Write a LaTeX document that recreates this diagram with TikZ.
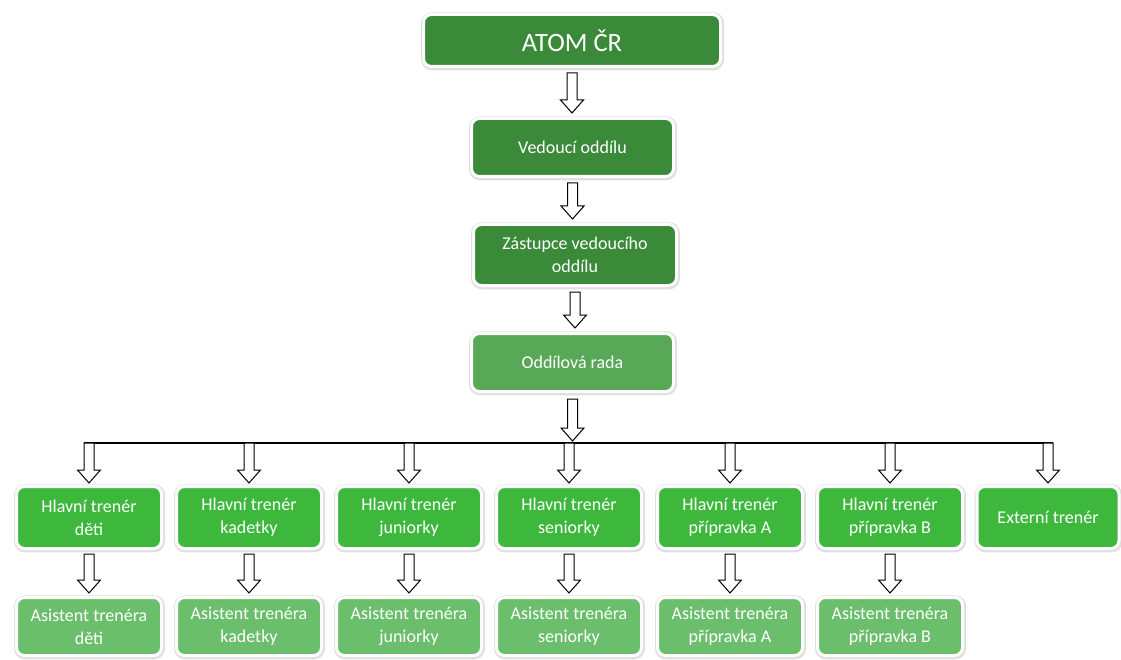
\documentclass[tikz,border=0pt]{standalone}
\usepackage{fontspec}
\setmainfont{Carlito}
\usepackage{tikz}
\usetikzlibrary{calc,shadows}

\definecolor{tmavazelena}{HTML}{3A8A3A}
\definecolor{radazelena}{HTML}{58A858}
\definecolor{trenerzelena}{HTML}{3DB83D}
\definecolor{asistzelena}{HTML}{6BBE6B}

\tikzset{
  box/.style={rectangle, rounded corners=8pt, draw=white, line width=3pt,
    text=white, align=center, font=\fontsize{18}{23}\selectfont,
    drop shadow={shadow xshift=0.5pt, shadow yshift=-0.8pt, opacity=0.5,
      fill=black!25, draw=black!25, line width=6pt}},
  blockarrow/.style={draw=black, fill=white, line width=1pt, line join=miter,
    to path={let \p1=(\tikztostart), \p2=(\tikztotarget) in
      (\x1-5pt,\y1) -- (\x1-5pt,\y2+13pt) -- (\x1-11.5pt,\y2+13pt) -- (\x1,\y2)
      -- (\x1+11.5pt,\y2+13pt) -- (\x1+5pt,\y2+13pt) -- (\x1+5pt,\y1) -- cycle}}
}

\begin{document}
\begin{tikzpicture}[x=1pt,y=1pt]
  \useasboundingbox (0,0) rectangle (1121,-660);

  % Parameters
  \def\rowA{-517.5}
  \def\rowB{-626.5}

  % Top of the chart
  \node[box, fill=tmavazelena, minimum width=297, minimum height=52,
    font=\fontsize{26.5}{30}\selectfont] (atom) at (572,-40.5) {ATOM ČR};
  \node[box, fill=tmavazelena, minimum width=202, minimum height=58] (vedouci) at (572.5,-147.5) {Vedoucí oddílu};
  \node[box, fill=tmavazelena, minimum width=203, minimum height=61] (zastupce) at (575,-255) {Zástupce vedoucího\\oddílu};
  \node[box, fill=radazelena, minimum width=202, minimum height=58] (rada) at (572.5,-362.5) {Oddílová rada};

  % Head coaches
  \node[box, fill=trenerzelena, minimum width=145, minimum height=62] (hdeti) at (89,\rowA) {Hlavní trenér\\děti};
  \node[box, fill=trenerzelena, minimum width=145, minimum height=62] (hkadetky) at (249,\rowA) {Hlavní trenér\\kadetky};
  \node[box, fill=trenerzelena, minimum width=145, minimum height=62] (hjuniorky) at (409,\rowA) {Hlavní trenér\\juniorky};
  \node[box, fill=trenerzelena, minimum width=145, minimum height=62] (hseniorky) at (569,\rowA) {Hlavní trenér\\seniorky};
  \node[box, fill=trenerzelena, minimum width=145, minimum height=62] (hpripravkaA) at (730,\rowA) {Hlavní trenér\\přípravka A};
  \node[box, fill=trenerzelena, minimum width=145, minimum height=62] (hpripravkaB) at (890,\rowA) {Hlavní trenér\\přípravka B};
  \node[box, fill=trenerzelena, minimum width=142, minimum height=62] (externi) at (1048,\rowA) {Externí trenér};

  % Assistants
  \node[box, fill=asistzelena, minimum width=145, minimum height=58] (adeti) at (89,\rowB) {Asistent trenéra\\děti};
  \node[box, fill=asistzelena, minimum width=145, minimum height=58] (akadetky) at (249,\rowB) {Asistent trenéra\\kadetky};
  \node[box, fill=asistzelena, minimum width=145, minimum height=58] (ajuniorky) at (409,\rowB) {Asistent trenéra\\juniorky};
  \node[box, fill=asistzelena, minimum width=145, minimum height=58] (aseniorky) at (569,\rowB) {Asistent trenéra\\seniorky};
  \node[box, fill=asistzelena, minimum width=145, minimum height=58] (apripravkaA) at (730,\rowB) {Asistent trenéra\\přípravka A};
  \node[box, fill=asistzelena, minimum width=145, minimum height=58] (apripravkaB) at (890,\rowB) {Asistent trenéra\\přípravka B};

  % Chain down to the board
  \draw[blockarrow] ([yshift=-5pt]atom.south) to ([yshift=4pt]vedouci.north);
  \draw[blockarrow] ([yshift=-5pt]vedouci.south) to ([yshift=4pt]zastupce.north);
  \draw[blockarrow] ([yshift=-5pt]zastupce.south) to ([yshift=4pt]rada.north);

  % Bus line
  \coordinate (bus) at (572,-443);
  \draw[line width=1.5pt] ([xshift=-5pt]hdeti.north |- bus) -- ([xshift=5pt]externi.north |- bus);
  \draw[blockarrow] ([yshift=-6pt]rada.south) to ([yshift=2pt]bus);

  % Arrows to head coaches
  \draw[blockarrow] (hdeti.north |- bus) to ([yshift=2pt]hdeti.north);
  \draw[blockarrow] (hkadetky.north |- bus) to ([yshift=2pt]hkadetky.north);
  \draw[blockarrow] (hjuniorky.north |- bus) to ([yshift=2pt]hjuniorky.north);
  \draw[blockarrow] (hseniorky.north |- bus) to ([yshift=2pt]hseniorky.north);
  \draw[blockarrow] (hpripravkaA.north |- bus) to ([yshift=2pt]hpripravkaA.north);
  \draw[blockarrow] (hpripravkaB.north |- bus) to ([yshift=2pt]hpripravkaB.north);
  \draw[blockarrow] (externi.north |- bus) to ([yshift=2pt]externi.north);

  % Arrows to assistants
  \draw[blockarrow] ([yshift=-4pt]hdeti.south) to ([yshift=3pt]adeti.north);
  \draw[blockarrow] ([yshift=-4pt]hkadetky.south) to ([yshift=3pt]akadetky.north);
  \draw[blockarrow] ([yshift=-4pt]hjuniorky.south) to ([yshift=3pt]ajuniorky.north);
  \draw[blockarrow] ([yshift=-4pt]hseniorky.south) to ([yshift=3pt]aseniorky.north);
  \draw[blockarrow] ([yshift=-4pt]hpripravkaA.south) to ([yshift=3pt]apripravkaA.north);
  \draw[blockarrow] ([yshift=-4pt]hpripravkaB.south) to ([yshift=3pt]apripravkaB.north);

\end{tikzpicture}
\end{document}
